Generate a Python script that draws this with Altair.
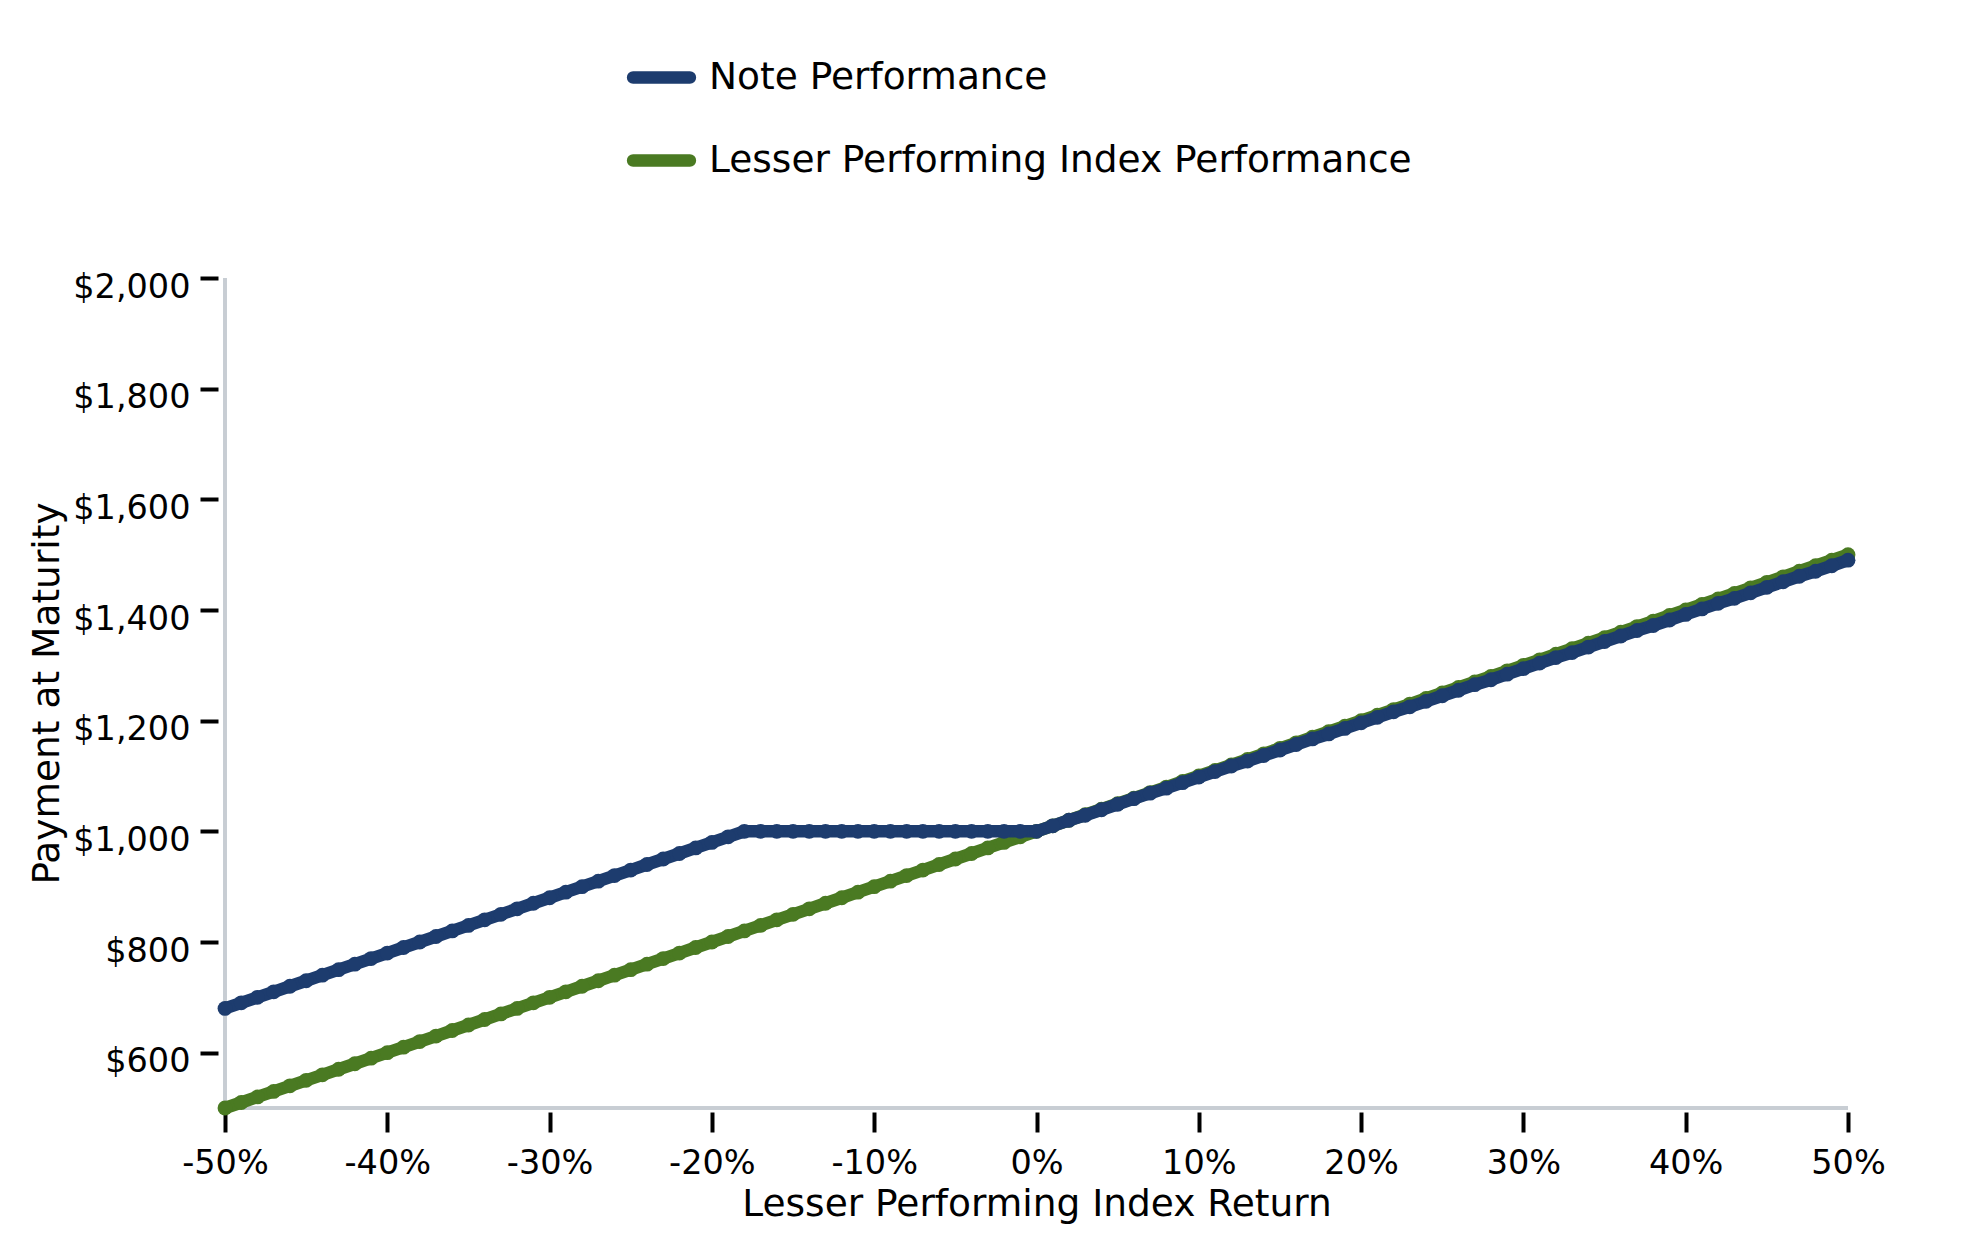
import altair as alt
import pandas as pd

# Lesser performing index return (%)
returns = [-50, -49, -48, -47, -46, -45, -44, -43, -42, -41,
           -40, -39, -38, -37, -36, -35, -34, -33, -32, -31,
           -30, -29, -28, -27, -26, -25, -24, -23, -22, -21,
           -20, -19, -18, -17, -16, -15, -14, -13, -12, -11,
           -10, -9, -8, -7, -6, -5, -4, -3, -2, -1,
           0, 1, 2, 3, 4, 5, 6, 7, 8, 9,
           10, 11, 12, 13, 14, 15, 16, 17, 18, 19,
           20, 21, 22, 23, 24, 25, 26, 27, 28, 29,
           30, 31, 32, 33, 34, 35, 36, 37, 38, 39,
           40, 41, 42, 43, 44, 45, 46, 47, 48, 49, 50]

# Note performance (payment at maturity, $)
note_values = [680, 690, 700, 710, 720, 730, 740, 750, 760, 770,
               780, 790, 800, 810, 820, 830, 840, 850, 860, 870,
               880, 890, 900, 910, 920, 930, 940, 950, 960, 970,
               980, 990, 1000, 1000, 1000, 1000, 1000, 1000, 1000, 1000,
               1000, 1000, 1000, 1000, 1000, 1000, 1000, 1000, 1000, 1000,
               1000, 1010, 1020, 1029, 1039, 1049, 1059, 1069, 1078, 1088,
               1098, 1108, 1118, 1127, 1137, 1147, 1157, 1167, 1176, 1186,
               1196, 1206, 1216, 1225, 1235, 1245, 1255, 1265, 1274, 1284,
               1294, 1304, 1314, 1323, 1333, 1343, 1353, 1363, 1372, 1382,
               1392, 1402, 1412, 1421, 1431, 1441, 1451, 1461, 1470, 1480, 1490]

# Lesser performing index performance ($)
index_values = [500, 510, 520, 530, 540, 550, 560, 570, 580, 590,
                600, 610, 620, 630, 640, 650, 660, 670, 680, 690,
                700, 710, 720, 730, 740, 750, 760, 770, 780, 790,
                800, 810, 820, 830, 840, 850, 860, 870, 880, 890,
                900, 910, 920, 930, 940, 950, 960, 970, 980, 990,
                1000, 1010, 1020, 1030, 1040, 1050, 1060, 1070, 1080, 1090,
                1100, 1110, 1120, 1130, 1140, 1150, 1160, 1170, 1180, 1190,
                1200, 1210, 1220, 1230, 1240, 1250, 1260, 1270, 1280, 1290,
                1300, 1310, 1320, 1330, 1340, 1350, 1360, 1370, 1380, 1390,
                1400, 1410, 1420, 1430, 1440, 1450, 1460, 1470, 1480, 1490, 1500]

series_names = ["Note Performance", "Lesser Performing Index Performance"]
series_colors = ["#1d3c6e", "#4a7a22"]
x_ticks = [-50, -40, -30, -20, -10, 0, 10, 20, 30, 40, 50]
y_ticks = [600, 800, 1000, 1200, 1400, 1600, 1800, 2000]

df = pd.DataFrame({
    "ret": returns * 2,
    "value": note_values + index_values,
    "series": [series_names[0]] * len(returns) + [series_names[1]] * len(returns),
})

FONT = "DejaVu Sans"
FS = 33.5
TFS = 37.5

x_scale = alt.Scale(domain=[-50, 50], nice=False, zero=False)
y_scale = alt.Scale(domain=[500, 2000], nice=False, zero=False)

x_enc = alt.X("ret:Q", scale=x_scale, axis=alt.Axis(
    values=x_ticks, labelExpr="datum.value + '%'", title="Lesser Performing Index Return",
    domain=False, grid=False, offset=4, tickSize=20, tickWidth=4, tickColor="black",
    labelPadding=41, labelBaseline="alphabetic", labelFontSize=FS, labelFont=FONT,
    labelColor="black", titleFontSize=TFS, titleFont=FONT, titleFontWeight="normal",
    titleColor="black", titleBaseline="alphabetic", titleY=103, labelFlush=False,
))
y_enc = alt.Y("value:Q", scale=y_scale, axis=alt.Axis(
    values=y_ticks, format="$,.0f", title="Payment at Maturity",
    domain=False, grid=False, offset=7, tickSize=18, tickWidth=4, tickColor="black",
    labelPadding=10, labelBaseline="alphabetic", labelOffset=19, labelFontSize=FS,
    labelFont=FONT, labelColor="black", titleFontSize=TFS, titleFont=FONT,
    titleFontWeight="normal", titleColor="black", titleX=-171, titleY=415,
    titleBaseline="middle", titleAlign="center", labelFlush=False,
))

stadium = ("M-0.98,-0.06 L0.98,-0.06 A0.06,0.06 0 0 1 0.98,0.06 "
           "L-0.98,0.06 A0.06,0.06 0 0 1 -0.98,-0.06 Z")

color_enc = alt.Color("series:N", scale=alt.Scale(domain=series_names, range=series_colors),
                      legend=alt.Legend(
                          title=None, orient="none", legendX=403, legendY=-234,
                          symbolType=stadium, symbolSize=3364, symbolStrokeWidth=9,
                          labelFontSize=TFS, labelFont=FONT, labelColor="black",
                          labelOffset=14, rowPadding=29, labelLimit=2000,
                      ))

base = alt.Chart(df)

green = base.transform_filter(alt.datum.series == series_names[1]).mark_line(
    strokeWidth=12.5, point=alt.OverlayMarkDef(size=220, filled=True, opacity=1)
).encode(x=x_enc, y=y_enc, color=color_enc)

blue = base.transform_filter(alt.datum.series == series_names[0]).mark_line(
    strokeWidth=12.5, point=alt.OverlayMarkDef(size=220, filled=True, opacity=1)
).encode(x=x_enc, y=y_enc, color=color_enc)

x_domain = alt.Chart(df).mark_rule(color="#c8cdd3", strokeWidth=3).encode(y=alt.datum(500, scale=y_scale))
y_domain = alt.Chart(df).mark_rule(color="#c8cdd3", strokeWidth=3).encode(x=alt.datum(-50, scale=x_scale))

chart = alt.layer(x_domain, y_domain, green, blue).properties(
    width=1623, height=830,
    autosize=alt.AutoSizeParams(type="none"),
    padding={"left": 217, "top": 270, "right": 110, "bottom": 120},
).configure(font=FONT).configure_view(stroke=None)

chart.save("out.html", embed_options={"renderer": "svg", "actions": False})
